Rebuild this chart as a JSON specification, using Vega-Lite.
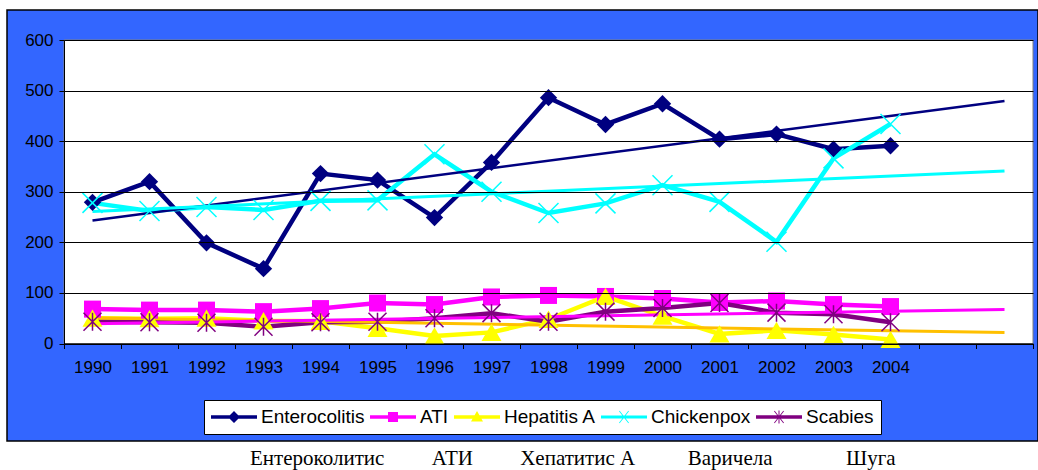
{
  "$schema": "https://vega.github.io/schema/vega-lite/v6.json",
  "width": 1031,
  "height": 431,
  "autosize": {"type": "none"},
  "padding": {"left": 7, "top": 10, "right": 0, "bottom": 29},
  "background": "white",
  "view": {"fill": "#3366FF", "stroke": "#000000", "strokeWidth": 1.5},
  "config": {
    "font": "Liberation Sans",
    "axis": {"labelColor": "black", "domainColor": "black", "tickColor": "black", "labelFont": "Liberation Sans"}
  },
  "title": {
    "text": "Ентероколитис\u00a0\u00a0\u00a0\u00a0\u00a0\u00a0\u00a0\u00a0\u00a0АТИ\u00a0\u00a0\u00a0\u00a0\u00a0\u00a0\u00a0\u00a0\u00a0Хепатитис А\u00a0\u00a0\u00a0\u00a0\u00a0\u00a0\u00a0\u00a0\u00a0\u00a0Варичела\u00a0\u00a0\u00a0\u00a0\u00a0\u00a0\u00a0\u00a0\u00a0\u00a0\u00a0\u00a0\u00a0\u00a0Шуга",
    "orient": "bottom",
    "anchor": "start",
    "frame": "group",
    "dx": 243,
    "offset": 24,
    "baseline": "alphabetic",
    "font": "Liberation Serif",
    "fontSize": 21,
    "fontWeight": "normal",
    "color": "black"
  },
  "data": {
    "values": [
      {"year": 1990, "series": "Enterocolitis", "value": 279},
      {"year": 1991, "series": "Enterocolitis", "value": 320},
      {"year": 1992, "series": "Enterocolitis", "value": 199},
      {"year": 1993, "series": "Enterocolitis", "value": 148},
      {"year": 1994, "series": "Enterocolitis", "value": 336},
      {"year": 1995, "series": "Enterocolitis", "value": 323},
      {"year": 1996, "series": "Enterocolitis", "value": 249},
      {"year": 1997, "series": "Enterocolitis", "value": 358},
      {"year": 1998, "series": "Enterocolitis", "value": 486},
      {"year": 1999, "series": "Enterocolitis", "value": 433},
      {"year": 2000, "series": "Enterocolitis", "value": 474},
      {"year": 2001, "series": "Enterocolitis", "value": 404},
      {"year": 2002, "series": "Enterocolitis", "value": 414},
      {"year": 2003, "series": "Enterocolitis", "value": 384},
      {"year": 2004, "series": "Enterocolitis", "value": 391},
      {"year": 1990, "series": "ATI", "value": 68},
      {"year": 1991, "series": "ATI", "value": 66},
      {"year": 1992, "series": "ATI", "value": 66},
      {"year": 1993, "series": "ATI", "value": 63},
      {"year": 1994, "series": "ATI", "value": 69},
      {"year": 1995, "series": "ATI", "value": 80},
      {"year": 1996, "series": "ATI", "value": 77},
      {"year": 1997, "series": "ATI", "value": 92},
      {"year": 1998, "series": "ATI", "value": 95},
      {"year": 1999, "series": "ATI", "value": 93},
      {"year": 2000, "series": "ATI", "value": 89},
      {"year": 2001, "series": "ATI", "value": 81},
      {"year": 2002, "series": "ATI", "value": 84},
      {"year": 2003, "series": "ATI", "value": 77},
      {"year": 2004, "series": "ATI", "value": 73},
      {"year": 1990, "series": "Hepatitis A", "value": 50},
      {"year": 1991, "series": "Hepatitis A", "value": 49},
      {"year": 1992, "series": "Hepatitis A", "value": 50},
      {"year": 1993, "series": "Hepatitis A", "value": 45},
      {"year": 1994, "series": "Hepatitis A", "value": 44},
      {"year": 1995, "series": "Hepatitis A", "value": 30},
      {"year": 1996, "series": "Hepatitis A", "value": 15},
      {"year": 1997, "series": "Hepatitis A", "value": 22},
      {"year": 1998, "series": "Hepatitis A", "value": 48},
      {"year": 1999, "series": "Hepatitis A", "value": 93},
      {"year": 2000, "series": "Hepatitis A", "value": 54},
      {"year": 2001, "series": "Hepatitis A", "value": 19},
      {"year": 2002, "series": "Hepatitis A", "value": 26},
      {"year": 2003, "series": "Hepatitis A", "value": 18},
      {"year": 2004, "series": "Hepatitis A", "value": 8},
      {"year": 1990, "series": "Chickenpox", "value": 278},
      {"year": 1991, "series": "Chickenpox", "value": 262},
      {"year": 1992, "series": "Chickenpox", "value": 270},
      {"year": 1993, "series": "Chickenpox", "value": 264},
      {"year": 1994, "series": "Chickenpox", "value": 282},
      {"year": 1995, "series": "Chickenpox", "value": 283},
      {"year": 1996, "series": "Chickenpox", "value": 374},
      {"year": 1997, "series": "Chickenpox", "value": 300},
      {"year": 1998, "series": "Chickenpox", "value": 258},
      {"year": 1999, "series": "Chickenpox", "value": 277},
      {"year": 2000, "series": "Chickenpox", "value": 313},
      {"year": 2001, "series": "Chickenpox", "value": 280},
      {"year": 2002, "series": "Chickenpox", "value": 201},
      {"year": 2003, "series": "Chickenpox", "value": 366},
      {"year": 2004, "series": "Chickenpox", "value": 434},
      {"year": 1990, "series": "Scabies", "value": 43},
      {"year": 1991, "series": "Scabies", "value": 42},
      {"year": 1992, "series": "Scabies", "value": 41},
      {"year": 1993, "series": "Scabies", "value": 33},
      {"year": 1994, "series": "Scabies", "value": 42},
      {"year": 1995, "series": "Scabies", "value": 43},
      {"year": 1996, "series": "Scabies", "value": 50},
      {"year": 1997, "series": "Scabies", "value": 60},
      {"year": 1998, "series": "Scabies", "value": 43},
      {"year": 1999, "series": "Scabies", "value": 63},
      {"year": 2000, "series": "Scabies", "value": 70},
      {"year": 2001, "series": "Scabies", "value": 80},
      {"year": 2002, "series": "Scabies", "value": 61},
      {"year": 2003, "series": "Scabies", "value": 58},
      {"year": 2004, "series": "Scabies", "value": 42}
    ]
  },
  "layer": [
    {
      "data": {"values": [{"a": 1}]},
      "mark": {"type": "rect", "fill": "#FFFFFF", "stroke": "#808080", "strokeWidth": 1},
      "encoding": {
        "x": {
          "datum": 1989.5, "type": "quantitative",
          "scale": {"domain": [1989.5, 2006.5], "range": [57, 1026], "nice": false, "zero": false},
          "axis": {
            "title": null, "orient": "bottom", "offset": -97.5,
            "values": [1989.5, 1990.5, 1991.5, 1992.5, 1993.5, 1994.5, 1995.5, 1996.5, 1997.5, 1998.5, 1999.5, 2000.5, 2001.5, 2002.5, 2003.5, 2004.5, 2005.5, 2006.5],
            "labelExpr": "datum.value < 2004 ? toString(datum.value + 0.5) : ''",
            "labelOffset": 28.5, "labelFlush": false, "labelOverlap": false, "labelBound": false,
            "grid": false, "tickSize": 5, "labelFontSize": 17, "labelPadding": 11, "zindex": 1
          }
        },
        "x2": {"datum": 2006.5},
        "y": {
          "datum": 0, "type": "quantitative",
          "scale": {"domain": [0, 600], "range": [333.5, 30], "nice": false, "zero": true},
          "axis": {
            "title": null, "orient": "left", "offset": -57,
            "values": [0, 100, 200, 300, 400, 500, 600],
            "grid": true, "gridColor": "black", "gridWidth": 1, "gridOpacity": 1,
            "tickSize": 5, "labelPadding": 6, "labelFontSize": 17, "zindex": 1
          }
        },
        "y2": {"datum": 600}
      }
    },
    {
      "encoding": {
        "x": {"field": "year", "type": "quantitative", "scale": {"domain": [1989.5, 2006.5], "range": [57, 1026], "nice": false, "zero": false}},
        "y": {"field": "value", "type": "quantitative", "scale": {"domain": [0, 600], "range": [333.5, 30], "nice": false, "zero": true}}
      },
      "layer": [
        {"transform": [{"filter": "datum.series === 'Enterocolitis'"}], "mark": {"type": "line", "strokeWidth": 4.5, "color": "#000080"}},
        {"transform": [{"filter": "datum.series === 'ATI'"}], "mark": {"type": "line", "strokeWidth": 4.5, "color": "#FF00FF"}},
        {"transform": [{"filter": "datum.series === 'Hepatitis A'"}], "mark": {"type": "line", "strokeWidth": 4.5, "color": "#FFFF00"}},
        {"transform": [{"filter": "datum.series === 'Chickenpox'"}], "mark": {"type": "line", "strokeWidth": 4.5, "color": "#00FFFF"}},
        {"transform": [{"filter": "datum.series === 'Scabies'"}], "mark": {"type": "line", "strokeWidth": 4.5, "color": "#800080"}},
        {
          "transform": [{"filter": "datum.series === 'Enterocolitis'"}, {"regression": "value", "on": "year", "extent": [1990, 2006]}],
          "mark": {"type": "line", "strokeWidth": 2.5, "color": "#000080"}
        },
        {
          "transform": [{"filter": "datum.series === 'Hepatitis A'"}, {"regression": "value", "on": "year", "extent": [1990, 2006]}],
          "mark": {"type": "line", "strokeWidth": 3, "color": "#FFC000"}
        },
        {
          "transform": [{"filter": "datum.series === 'Chickenpox'"}, {"regression": "value", "on": "year", "extent": [1990, 2006]}],
          "mark": {"type": "line", "strokeWidth": 3, "color": "#00FFFF"}
        },
        {
          "transform": [{"filter": "datum.series === 'Scabies'"}, {"regression": "value", "on": "year", "extent": [1990, 2006]}],
          "mark": {"type": "line", "strokeWidth": 3, "color": "#FF00FF"}
        },
        {
          "transform": [{"filter": "datum.series === 'Enterocolitis'"}],
          "mark": {"type": "point", "shape": "diamond", "filled": true, "size": 300, "color": "#000080", "opacity": 1}
        },
        {
          "transform": [{"filter": "datum.series === 'ATI'"}],
          "mark": {"type": "point", "shape": "square", "filled": true, "size": 289, "color": "#FF00FF", "opacity": 1}
        },
        {
          "transform": [{"filter": "datum.series === 'Hepatitis A'"}],
          "mark": {"type": "point", "shape": "triangle-up", "filled": true, "size": 400, "color": "#FFFF00", "opacity": 1}
        },
        {
          "transform": [{"filter": "datum.series === 'Chickenpox'"}],
          "mark": {"type": "point", "shape": "M-1,-1L1,1M-1,1L1,-1", "filled": false, "size": 400, "color": "#00FFFF", "strokeWidth": 1.5, "opacity": 1}
        },
        {
          "transform": [{"filter": "datum.series === 'Scabies'"}],
          "mark": {"type": "point", "shape": "M-1,-1L1,1M-1,1L1,-1M0,-1L0,1", "filled": false, "size": 324, "color": "#800080", "strokeWidth": 1.5, "opacity": 1}
        },
        {
          "mark": {"type": "point", "filled": true, "opacity": 0, "size": 400, "strokeWidth": 0},
          "encoding": {
            "shape": {
              "field": "series", "type": "nominal",
              "scale": {
                "domain": ["Enterocolitis", "ATI", "Hepatitis A", "Chickenpox", "Scabies"],
                "range": [
                  "M-1,-0.18H3.6V0.18H-1Z M1.3,-0.6L1.9,0L1.3,0.6L0.7,0Z",
                  "M-1,-0.18H3.6V0.18H-1Z M0.8,-0.5H1.8V0.5H0.8Z",
                  "M-1,-0.18H3.6V0.18H-1Z M1.3,-0.6L1.9,0.45H0.7Z",
                  "M-1,-0.15H3.6V0.15H-1Z M0.8,-0.57L0.87,-0.63L1.8,0.57L1.73,0.63Z M0.8,0.57L1.73,-0.63L1.8,-0.57L0.87,0.63Z",
                  "M-1,-0.18H3.6V0.18H-1Z M0.8,-0.57L0.87,-0.63L1.8,0.57L1.73,0.63Z M0.8,0.57L1.73,-0.63L1.8,-0.57L0.87,0.63Z M1.25,-0.65H1.35V0.65H1.25Z"
                ]
              },
              "legend": {
                "title": null, "orient": "none", "legendX": 197, "legendY": 390, "direction": "horizontal",
                "fillColor": "white", "strokeColor": "black", "padding": 7, "cornerRadius": 0,
                "symbolSize": 400, "symbolStrokeWidth": 0, "symbolOpacity": 1,
                "labelFont": "Liberation Sans", "labelFontSize": 19, "labelColor": "black", "labelOffset": 30,
                "labelLimit": 300, "columnPadding": 5
              }
            },
            "fill": {
              "field": "series", "type": "nominal",
              "scale": {"domain": ["Enterocolitis", "ATI", "Hepatitis A", "Chickenpox", "Scabies"], "range": ["#000080", "#FF00FF", "#FFFF00", "#00FFFF", "#800080"]},
              "legend": {
                "title": null, "orient": "none", "legendX": 197, "legendY": 390, "direction": "horizontal",
                "fillColor": "white", "strokeColor": "black", "padding": 7, "cornerRadius": 0,
                "symbolSize": 400, "symbolStrokeWidth": 0, "symbolOpacity": 1,
                "labelFont": "Liberation Sans", "labelFontSize": 19, "labelColor": "black", "labelOffset": 30,
                "labelLimit": 300, "columnPadding": 5
              }
            }
          }
        }
      ]
    }
  ]
}
